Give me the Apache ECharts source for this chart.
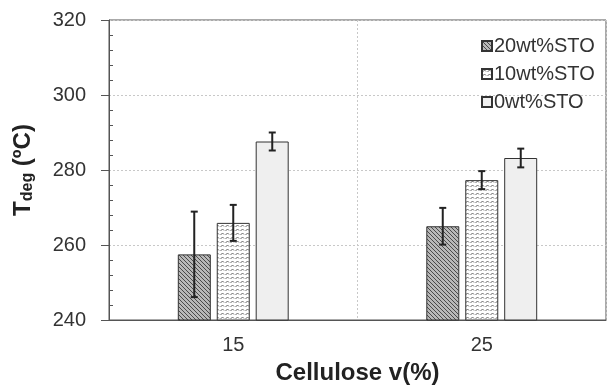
<!DOCTYPE html>
<html>
<head>
<meta charset="utf-8">
<script src="https://cdn.jsdelivr.net/npm/echarts@6/dist/echarts.min.js"></script>
<style>
  html, body { margin: 0; padding: 0; background: #fff; }
  #chart { width: 607px; height: 390px; }
</style>
</head>
<body>
<div id="chart"></div>
<script>
// data
const categories = ['15', '25']
const seriesNames = ['20wt%STO', '10wt%STO', '0wt%STO']
const means = [
  [257.5, 265.0],
  [265.9, 277.3],
  [287.6, 283.2]
]
const errors = [
  [11.4, 4.9],
  [4.8, 2.4],
  [2.4, 2.5]
]

// hatch patterns
function hatchDiag() {
  const c = document.createElement('canvas')
  c.width = 4; c.height = 4
  const g = c.getContext('2d')
  g.fillStyle = '#b8b8b8'
  g.fillRect(0, 0, 4, 4)
  g.strokeStyle = '#4a4a4a'
  g.lineWidth = 1
  g.beginPath()
  g.moveTo(0, 0); g.lineTo(4, 4)
  g.moveTo(-2, 2); g.lineTo(2, 6)
  g.moveTo(2, -2); g.lineTo(6, 2)
  g.stroke()
  return c
}
function hatchWave() {
  const c = document.createElement('canvas')
  c.width = 5; c.height = 4
  const g = c.getContext('2d')
  g.fillStyle = '#ffffff'
  g.fillRect(0, 0, 5, 4)
  g.strokeStyle = '#666'
  g.lineWidth = 1
  g.beginPath()
  g.moveTo(0.5, 3); g.lineTo(2.5, 1); g.lineTo(4, 2.5)
  g.stroke()
  return c
}

const fills = [
  { image: hatchDiag(), repeat: 'repeat' },
  { image: hatchWave(), repeat: 'repeat' },
  '#efefef'
]
const barW = 33
const barGapPx = 6
const offsets = [-(barW + barGapPx), 0, barW + barGapPx]

const chart = echarts.init(document.getElementById('chart'))

const series = []
seriesNames.forEach((name, i) => {
  series.push({
    name: name,
    type: 'bar',
    barWidth: barW,
    barGap: (barGapPx / barW * 100).toFixed(0) + '%',
    data: means[i],
    itemStyle: {
      color: fills[i],
      borderColor: '#333',
      borderWidth: 1
    },
    z: 2
  })
})
seriesNames.forEach((name, i) => {
  series.push({
    type: 'custom',
    name: name + '_err',
    data: means[i].map((m, j) => [j, m - errors[i][j], m + errors[i][j]]),
    encode: { x: 0, y: [1, 2] },
    z: 5,
    renderItem: function (params, api) {
      const lo = api.coord([api.value(0), api.value(1)])
      const hi = api.coord([api.value(0), api.value(2)])
      const x = lo[0] + offsets[i]
      const cap = 3.5
      const st = { stroke: '#222', lineWidth: 2 }
      return {
        type: 'group',
        children: [
          { type: 'line', shape: { x1: x, y1: lo[1], x2: x, y2: hi[1] }, style: st },
          { type: 'line', shape: { x1: x - cap, y1: lo[1], x2: x + cap, y2: lo[1] }, style: st },
          { type: 'line', shape: { x1: x - cap, y1: hi[1], x2: x + cap, y2: hi[1] }, style: st }
        ]
      }
    }
  })
})

const option = {
  animation: false,
  textStyle: { fontFamily: 'Liberation Sans, Arial, sans-serif' },
  grid: {
    left: 109,
    right: 1,
    top: 20,
    bottom: 67,
    show: true,
    borderColor: '#555',
    borderWidth: 1
  },
  legend: {
    data: seriesNames,
    orient: 'vertical',
    left: 476,
    top: 31,
    icon: 'rect',
    itemWidth: 10,
    itemHeight: 10,
    itemGap: 8,
    textStyle: { fontSize: 20, color: '#333', padding: [0, 0, 0, -3] }
  },
  xAxis: {
    type: 'category',
    data: categories,
    name: 'Cellulose v(%)',
    nameLocation: 'middle',
    nameGap: 41,
    nameTextStyle: { fontSize: 24, fontWeight: 'bold', color: '#222' },
    axisLine: { lineStyle: { color: '#555' } },
    axisTick: { alignWithLabel: true, length: 4, lineStyle: { color: '#555' } },
    axisLabel: { fontSize: 20, color: '#333', margin: 15 },
    splitLine: { show: true, lineStyle: { color: '#c8c8c8', type: [2, 2] } }
  },
  yAxis: {
    type: 'value',
    min: 240,
    max: 320,
    interval: 20,
    name: '{b|T}{s|deg}{b| (ºC)}',
    nameLocation: 'middle',
    nameRotate: 90,
    nameGap: 73,
    nameTextStyle: {
      rich: {
        b: { fontSize: 24, fontWeight: 'bold', color: '#222', fontFamily: 'Liberation Sans' },
        s: { fontSize: 16, fontWeight: 'bold', color: '#222', fontFamily: 'Liberation Sans', padding: [10, 0, 0, 0] }
      }
    },
    axisLine: { show: true, lineStyle: { color: '#555' } },
    axisTick: { show: true, length: 8, lineStyle: { color: '#555' } },
    minorTick: { show: true, splitNumber: 5, length: -4, lineStyle: { color: '#555' } },
    axisLabel: { fontSize: 20, color: '#333', margin: 23 },
    splitLine: { show: true, lineStyle: { color: '#c8c8c8', type: [2, 2] } }
  },
  series: series
}

chart.setOption(option)
</script>
</body>
</html>
